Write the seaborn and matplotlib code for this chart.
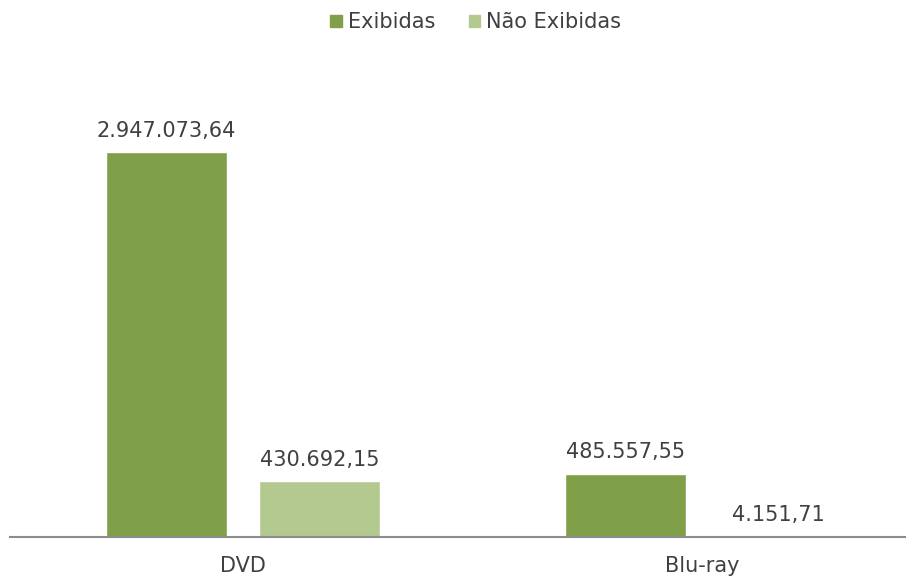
import pandas as pd
import matplotlib.pyplot as plt
import seaborn as sns

# data
midias = ["DVD", "Blu-ray"]
exibidas = [2947073.64, 485557.55]
nao_exibidas = [430692.15, 4151.71]
series = ["Exibidas", "Não Exibidas"]
cores = ["#7f9f48", "#b3c98f"]


def fmt_br(v):
    """Format number in pt-BR style: 1.234,56"""
    return f"{v:,.2f}".replace(",", "X").replace(".", ",").replace("X", ".")


df = pd.DataFrame({
    "midia": midias * 2,
    "serie": [series[0]] * len(midias) + [series[1]] * len(midias),
    "valor": exibidas + nao_exibidas,
})

sns.set_style("white")
plt.rcParams["font.family"] = ["DejaVu Sans"]

fig = plt.figure(figsize=(9.22, 5.83), dpi=100)
ax = fig.add_axes([10 / 922, 46 / 583, 895 / 922, 437 / 583])

sns.barplot(data=df, x="midia", y="valor", hue="serie", palette=cores,
            width=0.667, gap=0.21, ax=ax, legend=False, saturation=1)

for cont in ax.containers:
    ax.bar_label(cont, labels=[fmt_br(v) for v in cont.datavalues],
                 padding=8, fontsize=15, color="#404040")

ax.set_xlim(-0.508, 1.442)
ax.set_ylim(0, 3345000)
ax.set_xlabel("")
ax.set_ylabel("")
ax.set_yticks([])
ax.tick_params(axis="x", length=0, labelsize=15, labelcolor="#404040", pad=14)
for side in ["left", "right", "top"]:
    ax.spines[side].set_visible(False)
ax.spines["bottom"].set_color("#8c8c8c")
ax.spines["bottom"].set_linewidth(1.5)

handles = [plt.Rectangle((0, 0), 1, 1, color=c) for c in cores]
fig.legend(handles, series, loc="center", bbox_to_anchor=(0.516, 0.962), ncol=2,
           frameon=False, fontsize=15, handlelength=0.55, handleheight=0.55,
           handletextpad=0.3, columnspacing=1.6, labelcolor="#404040")

fig.savefig("out.png", dpi=100)
